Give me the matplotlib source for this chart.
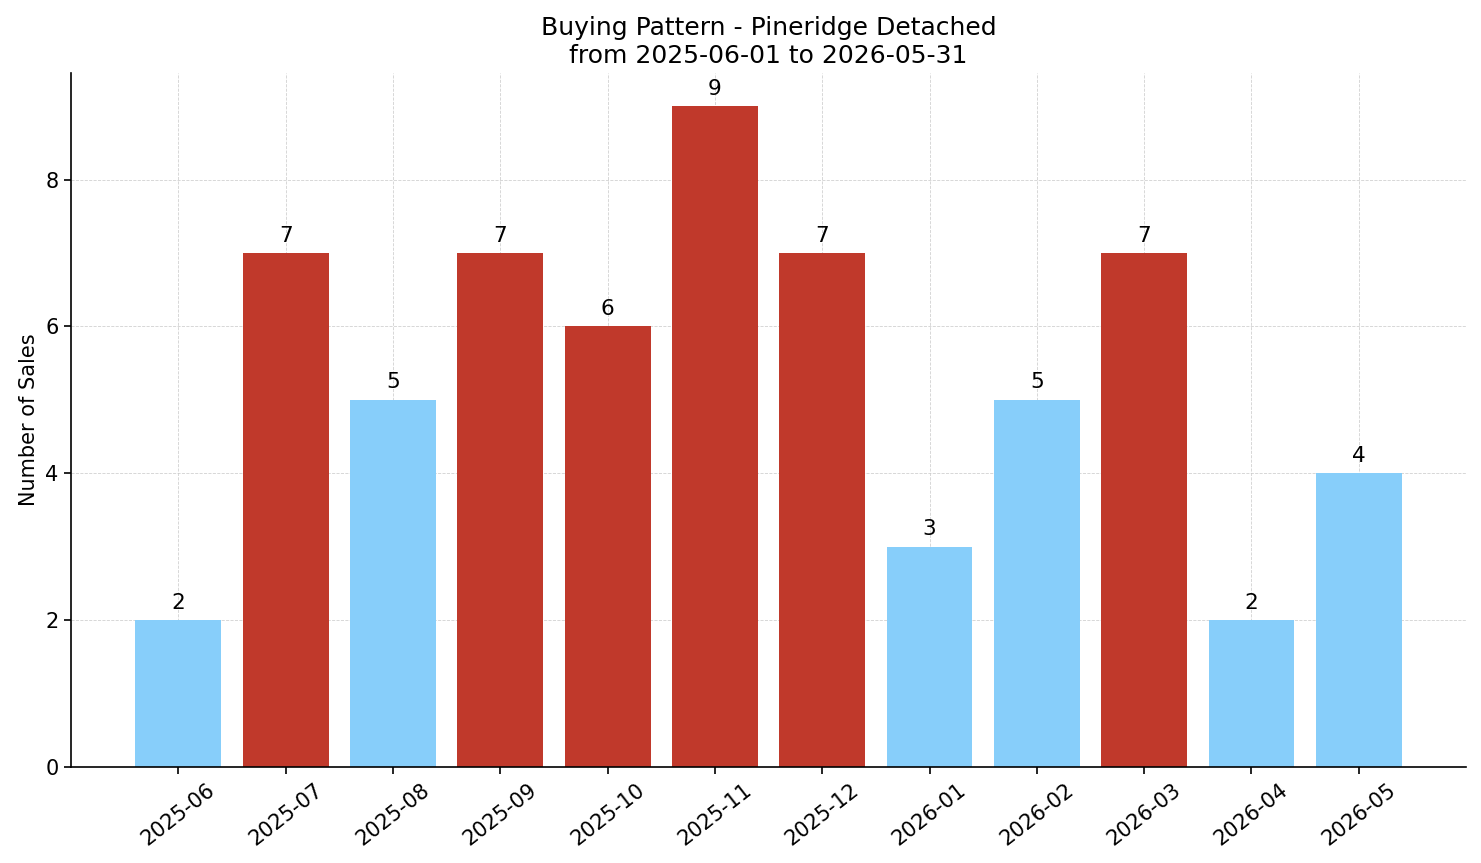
import matplotlib
matplotlib.use("Agg")
import matplotlib.pyplot as plt

months = ["2025-06", "2025-07", "2025-08", "2025-09", "2025-10", "2025-11",
          "2025-12", "2026-01", "2026-02", "2026-03", "2026-04", "2026-05"]
sales = [2, 7, 5, 7, 6, 9, 7, 3, 5, 7, 2, 4]
high_threshold = 6  # bars >= this are highlighted

HIGH = "#C0392B"
LOW = "#87CEFA"

DPI = 120
fig = plt.figure(figsize=(1481 / DPI, 863 / DPI), dpi=DPI)
ax = fig.add_axes([0.048, 0.1112, 0.9419, 0.8042])

x = list(range(len(months)))
colors = [HIGH if v >= high_threshold else LOW for v in sales]
ax.set_axisbelow(True)
ax.grid(True, linestyle="--", linewidth=0.5, color="#cccccc", alpha=0.9)
ax.bar(x, sales, width=0.8, color=colors)
for xi, v in zip(x, sales):
    ax.text(xi, v + 0.1, str(v), ha="center", va="bottom", fontsize=13)

ax.set_xticks(x)
ax.set_xticklabels(months, rotation=38, fontsize=12.5)
ax.tick_params(axis="y", labelsize=12.5)
ax.tick_params(length=4, width=1)
ax.set_xlim(-1, len(months))
ax.set_ylabel("Number of Sales", fontsize=12.5)
ax.set_title("Buying Pattern - Pineridge Detached\nfrom 2025-06-01 to 2026-05-31", fontsize=15)
ax.spines["top"].set_visible(False)
ax.spines["right"].set_visible(False)
for s in ("left", "bottom"):
    ax.spines[s].set_linewidth(1.0)

fig.savefig("out.png", dpi=DPI)
